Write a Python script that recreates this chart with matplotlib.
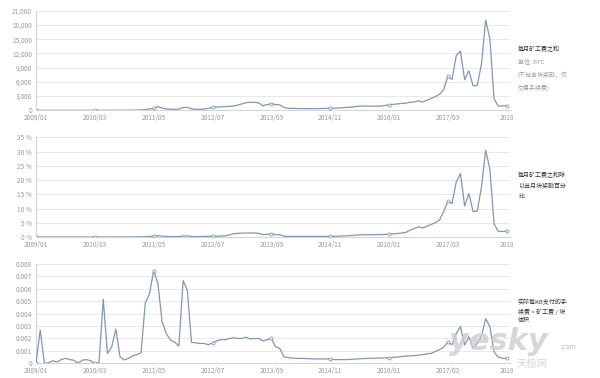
import matplotlib
matplotlib.use("Agg")
import matplotlib.pyplot as plt
from matplotlib.ticker import FuncFormatter, FixedLocator

plt.rcParams['font.family'] = ['Noto Sans CJK SC', 'DejaVu Sans']

# monthly data 2009/01 .. 2018/05 (113 months)
months = [f"{2009 + i // 12}/{i % 12 + 1:02d}" for i in range(113)]
tick_labels = ["2009/01", "2010/03", "2011/05", "2012/07", "2013/09",
               "2014/11", "2016/01", "2017/03", "2018"]

fees_btc = [
    0, 0, 0, 0, 0, 0, 0, 0, 0, 0, 0, 0,
    1, 1, 2, 2, 3, 4, 5, 6, 8, 10, 15, 20,
    40, 80, 150, 300, 400, 780, 480, 300, 230, 200, 250, 600,
    620, 300, 220, 220, 260, 400, 630, 680, 730, 780, 850, 900,
    1100, 1350, 1600, 1690, 1690, 1550, 950, 1200, 1400, 1200, 1150, 600,
    420, 400, 380, 370, 360, 350, 350, 360, 380, 400, 420, 450,
    480, 550, 630, 640, 800, 880, 900, 880, 880, 900, 900, 1000,
    1180, 1250, 1350, 1450, 1500, 1700, 1750, 2000, 1750, 2100, 2500, 2850,
    3400, 4350, 7140, 6510, 11550, 12450, 6440, 8330, 5180, 5250, 9800, 19050,
    15050, 2380, 900, 900, 990,
]

fee_pct = [
    0, 0, 0, 0, 0, 0, 0, 0, 0, 0, 0, 0,
    0, 0, 0, 0, 0, 0, 0, 0.01, 0.01, 0.01, 0.02, 0.02,
    0.05, 0.08, 0.12, 0.2, 0.3, 0.45, 0.3, 0.2, 0.15, 0.15, 0.15, 0.35,
    0.4, 0.2, 0.15, 0.15, 0.2, 0.25, 0.3, 0.3, 0.35, 0.4, 0.7, 1.15,
    1.3, 1.35, 1.4, 1.4, 1.4, 1.3, 0.85, 0.9, 1.15, 0.8, 0.8, 0.3,
    0.2, 0.2, 0.2, 0.2, 0.2, 0.2, 0.2, 0.2, 0.2, 0.2, 0.2, 0.25,
    0.3, 0.35, 0.45, 0.5, 0.65, 0.75, 0.8, 0.8, 0.8, 0.8, 0.85, 0.9,
    1.0, 1.1, 1.2, 1.4, 1.6, 2.4, 3.0, 3.6, 3.15, 3.8, 4.4, 5.0,
    5.95, 8.9, 12.6, 11.8, 19.4, 22.3, 10.85, 15.3, 8.9, 9.1, 17.6, 30.45,
    23.7, 4.55, 2.0, 1.9, 2.1,
]

fee_per_kb = [
    0, 0.00268, 0, 0.00005, 0.0002, 0.0001, 0.0003, 0.0004, 0.0003, 0.00025, 0.0, 0.00025,
    0.0003, 0.0002, 0, 0.00005, 0.00516, 0.0008, 0.0013, 0.00276, 0.00053, 0.00027, 0.0004, 0.0006,
    0.0007, 0.00085, 0.00488, 0.0056, 0.00746, 0.00645, 0.00335, 0.0024, 0.00188, 0.0017, 0.0014, 0.00666,
    0.0059, 0.00169, 0.00165, 0.0016, 0.0016, 0.0015, 0.00165, 0.0018, 0.0019, 0.0019, 0.002, 0.00206,
    0.002, 0.002, 0.0021, 0.00196, 0.002, 0.002, 0.0018, 0.0019, 0.002, 0.00134, 0.0012, 0.00053,
    0.00045, 0.00042, 0.0004, 0.0004, 0.00038, 0.00037, 0.00036, 0.00035, 0.00035, 0.00035, 0.00035, 0.0003,
    0.0003, 0.0003, 0.0003, 0.00032, 0.00034, 0.00036, 0.00038, 0.0004, 0.0004, 0.00042, 0.00042, 0.00043,
    0.00043, 0.00048, 0.0005, 0.00055, 0.00058, 0.0006, 0.00062, 0.00065, 0.0007, 0.00075, 0.0008, 0.00095,
    0.0011, 0.0013, 0.0017, 0.0015, 0.0024, 0.00295, 0.00147, 0.00214, 0.0012, 0.0016, 0.0022, 0.0036,
    0.00295, 0.0009, 0.0005, 0.0004, 0.0004,
]

titles = [
    ["每月矿工费之和", "单位: BTC", "(不包含块奖励，仅", "交易手续费)"],
    ["每月矿工费之和除", "以当月块奖励百分", "比"],
    ["实际每KB支付的手", "续费 = 矿工费 / 块", "体积"],
]

W, H = 600, 378
fig = plt.figure(figsize=(W / 100, H / 100), dpi=100)

LINE = "#7f97b7"
GRID = "#e9e9e9"
TXT = "#9a9a9a"

panels = [
    dict(data=fees_btc, top=10.7, bot=110.3, ymax=21000, step=3000,
         fmt=lambda v, p: f"{int(round(v)):,}"),
    dict(data=fee_pct, top=137.3, bot=237.0, ymax=35, step=5,
         fmt=lambda v, p: f"{int(round(v))} %"),
    dict(data=fee_per_kb, top=264.0, bot=363.3, ymax=0.008, step=0.001,
         fmt=lambda v, p: "0" if abs(v) < 1e-12 else f"{v:.3f}"),
]

x_left, x_right = 36, 510
px_per_month = (506.7 - 36) / 112
tick_pos = [0, 14, 28, 42, 56, 70, 84, 98, 112]

# watermark (behind the chart texts)
fig.text(449 / W, 1 - 350 / H, "yesky", fontsize=22, color="#cdcdcd",
         alpha=0.8, ha='left', va='baseline', style='italic', weight='bold',
         family=['DejaVu Sans'], zorder=0)
fig.text(560 / W, 1 - 349 / H, ".com", fontsize=5, color="#b8b8b8",
         ha='left', va='baseline', zorder=0)
fig.text(517 / W, 1 - 364 / H, "天极网", fontsize=7.5, color="#cdcdcd",
         alpha=0.8, ha='left', va='center', zorder=0)

for k, pnl in enumerate(panels):
    ax = fig.add_axes([x_left / W, 1 - pnl['bot'] / H,
                       (x_right - x_left) / W, (pnl['bot'] - pnl['top']) / H])
    ax.patch.set_alpha(0)
    xs = list(range(len(pnl['data'])))
    ax.plot(xs, pnl['data'], color=LINE, lw=0.9, zorder=3,
            marker='o', markevery=tick_pos, markersize=2.2,
            markerfacecolor='white', markeredgecolor=LINE, markeredgewidth=0.6)
    ax.set_xlim(0, (x_right - x_left) / px_per_month)
    ax.set_ylim(0, pnl['ymax'])
    n = int(round(pnl['ymax'] / pnl['step']))
    ax.yaxis.set_major_locator(FixedLocator([i * pnl['step'] for i in range(n + 1)]))
    ax.yaxis.set_major_formatter(FuncFormatter(pnl['fmt']))
    ax.set_xticks(tick_pos)
    ax.set_xticklabels(tick_labels)
    ax.grid(axis='y', color=GRID, lw=0.7, zorder=0)
    ax.tick_params(axis='both', length=0, labelsize=4.7, colors=TXT)
    ax.tick_params(axis='y', pad=3.0)
    ax.tick_params(axis='x', pad=2.8)
    for s in ['top', 'right']:
        ax.spines[s].set_visible(False)
    ax.spines['left'].set_color("#d5d5d5")
    ax.spines['left'].set_linewidth(0.8)
    ax.spines['bottom'].set_color("#d5d5d5")
    ax.spines['bottom'].set_linewidth(0.8)

# right-side annotations
ann = [
    [(49.3, "#333333"), (61.7, TXT), (74.5, TXT), (88.0, TXT)],
    [(175.0, "#333333"), (185.0, "#333333"), (196.5, "#333333")],
    [(302.7, "#333333"), (311.7, "#333333"), (320.7, "#333333")],
]
for lines, pos in zip(titles, ann):
    for text, (y, col) in zip(lines, pos):
        fig.text(518 / W, 1 - y / H, text, fontsize=4.3, color=col,
                 ha='left', va='center')

fig.savefig("out.png", dpi=100, facecolor='white')
